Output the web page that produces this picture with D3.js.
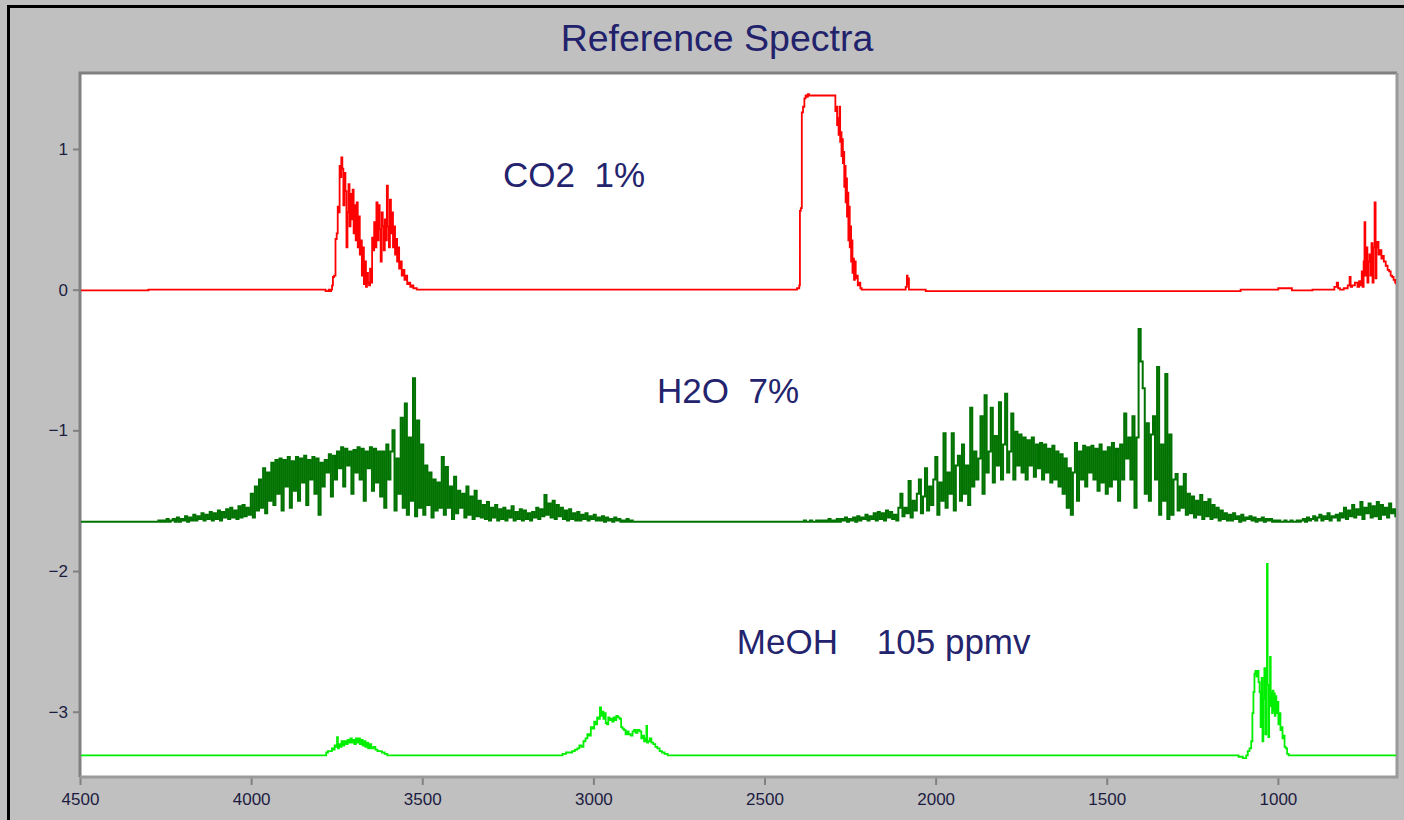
<!DOCTYPE html>
<html>
<head>
<meta charset="utf-8">
<script src="https://cdn.jsdelivr.net/npm/d3@7"></script>
<style>
  html, body { margin: 0; padding: 0; background: #c0c0c0; }
  svg { display: block; font-family: Arial, "Liberation Sans", sans-serif; }
</style>
</head>
<body>
<svg id="chart" width="1404" height="820"></svg>
<script>
// ---- axis ticks ----
const xTicks = [4500, 4000, 3500, 3000, 2500, 2000, 1500, 1000];
const yTicks = [1, 0, -1, -2, -3];

// ---- series names and vertical offsets of each stacked spectrum ----
const seriesNames = ["CO2  1%", "H2O  7%", "MeOH    105 ppmv"];
const co2Offset = 0;
const h2oOffset = -1.65;
const meohOffset = -3.31;

// ---- CO2 1% : [wavenumber, absorbance] ----
const co2Points = [
  [4500,-0.005],[4300,-0.005],[4300,0],[3790,0],[3775,-0.01],[3772,0],[3768,-0.01],[3765,0],
  [3762,0.03],[3760,0.09],[3755,0.1],[3752,0.36],[3748,0.4],[3746,0.59],[3743,0.55],[3740,0.88],
  [3738,0.8],[3735,0.94],[3732,0.86],[3729,0.6],[3726,0.83],[3723,0.7],[3720,0.3],[3717,0.55],
  [3714,0.75],[3711,0.45],[3708,0.68],[3705,0.5],[3702,0.71],[3699,0.4],[3696,0.6],[3693,0.35],
  [3690,0.62],[3687,0.3],[3684,0.52],[3681,0.25],[3678,0.35],[3675,0.1],[3672,0.3],[3669,0.04],
  [3666,0.2],[3663,0.02],[3660,0.12],[3657,0.05],[3654,0.03],[3651,0.15],[3648,0.05],[3645,0.37],
  [3642,0.28],[3639,0.48],[3636,0.3],[3632,0.62],[3629,0.35],[3626,0.6],[3623,0.43],[3620,0.2],
  [3617,0.55],[3614,0.45],[3611,0.28],[3608,0.5],[3605,0.35],[3602,0.74],[3599,0.45],[3596,0.3],
  [3593,0.64],[3590,0.4],[3587,0.55],[3584,0.3],[3581,0.45],[3578,0.25],[3575,0.36],[3572,0.2],
  [3569,0.3],[3566,0.15],[3562,0.2],[3558,0.1],[3554,0.14],[3550,0.07],[3546,0.1],[3542,0.04],
  [3537,0.05],[3533,0.02],[3528,0.03],[3524,0.01],[3518,0.01],[3514,0],
  [2410,0],[2400,0.01],[2397,0.03],[2396,0.56],[2392,0.58],[2390,1.26],[2385,1.3],[2382,1.36],
  [2378,1.38],[2375,1.37],[2372,1.39],[2368,1.38],[2294,1.38],[2292,1.27],[2289,1.3],[2287,1.17],
  [2285,1.22],[2282,1.1],[2280,1.3],[2278,1.05],[2276,1.12],[2274,0.95],[2272,1.07],[2270,0.9],
  [2268,0.98],[2266,0.73],[2264,0.88],[2262,0.62],[2260,0.79],[2258,0.52],[2256,0.69],[2254,0.35],
  [2252,0.59],[2250,0.3],[2248,0.45],[2246,0.2],[2244,0.35],[2242,0.12],[2240,0.22],[2237,0.07],
  [2235,0.2],[2232,0.08],[2229,0.1],[2226,0.03],[2222,0.05],[2218,0.01],[2214,0],
  [2090,0],[2085,0.02],[2083,0.1],[2081,0.04],[2079,0.08],[2077,0],[2030,0],[2028,-0.01],
  [1110,-0.01],[1108,0],[1000,0],[998,0.01],[960,0.01],[958,-0.005],[840,0],
  [830,0.02],[826,0.05],[822,0.01],[815,0],[800,0.01],[792,0.03],[789,0.09],[786,0.02],
  [780,0.03],[770,0.05],[765,0.02],[760,0.06],[756,0.03],[754,0.13],[751,0.02],[748,0.2],
  [746,0.48],[743,0.1],[740,0.3],[737,0.05],[734,0.2],[731,0.25],[728,0.1],[725,0.33],
  [722,0.05],[719,0.3],[716,0.62],[713,0.08],[711,0.3],[708,0.34],[704,0.25],[699,0.28],
  [696,0.22],[693,0.24],[688,0.2],[682,0.17],[677,0.14],[673,0.13],[668,0.1],[664,0.09],
  [660,0.07],[655,0.05],[652,0.04]
];

// ---- H2O 7% : evenly sampled absorbance (first x, spacing in cm-1) ----
const h2oBandAFirstX = 4280;
const h2oBandBFirstX = 2400;
const h2oDeltaX = -6;
const h2oBandA = [
  0,0,.01,0,.01,0,.02,0,.01,.02,
  0,.03,0,.02,.01,.04,0,.03,.01,.05,
  .01,.04,.02,.06,.01,.05,.02,.07,.01,.06,
  .02,.08,.01,.07,.03,.09,.02,.1,.03,.08,
  .02,.11,.03,.12,.04,.1,.05,.2,.03,.25,
  .08,.3,.1,.38,.06,.35,.15,.42,.12,.44,
  .2,.45,.08,.44,.25,.46,.1,.43,.22,.46,
  .15,.45,.28,.47,.12,.44,.3,.46,.2,.45,
  .05,.42,.25,.44,.35,.48,.18,.47,.3,.5,
  .38,.53,.25,.52,.4,.5,.2,.51,.35,.53,
  .3,.52,.15,.5,.38,.53,.22,.52,.28,.5,
  .18,.5,.1,.55,.3,.5,.65,.08,.45,.2,
  .74,.1,.84,.05,.6,.15,1.02,.04,.72,.1,
  .55,.05,.4,.12,.35,.03,.3,.08,.28,.1,
  .46,.05,.39,.1,.25,.02,.32,.06,.22,.1,
  .2,.03,.25,.05,.18,.02,.22,.04,.15,.03,
  .12,.02,.14,.01,.1,.03,.12,.01,.09,.02,
  .1,.01,.08,.03,.11,.01,.07,.02,.09,.01,
  .08,.02,.06,.01,.07,.03,.1,.02,.09,.04,
  .19,.05,.13,.03,.15,.02,.12,.04,.1,.02,
  .08,.01,.09,.02,.06,.01,.07,.01,.05,.02,
  .06,.01,.04,.02,.05,.01,.03,.01,.04,0,
  .03,.01,.02,0,.03,.01,.02,0,.01,0,
  .02,0,.01,0,0,0,0
];
const h2oBandB = [
  0,0,0,.01,0,0,.01,0,0,.01,
  0,.01,0,.01,0,.02,0,.01,0,.02,
  0,.02,.01,.03,0,.02,.01,.03,0,.04,
  .01,.03,.02,.05,.01,.04,.02,.06,.01,.07,
  .02,.06,.01,.08,.03,.07,.02,.05,.01,.1,
  .2,.04,.1,.06,.29,.03,.15,.08,.2,.3,
  .06,.18,.38,.08,.25,.12,.3,.46,.05,.28,
  .15,.63,.1,.35,.2,.63,.08,.4,.47,.15,
  .55,.2,.4,.12,.81,.25,.5,.3,.45,.75,
  .2,.9,.35,.5,.81,.28,.61,.4,.85,.3,
  .55,.91,.35,.5,.77,.3,.64,.4,.62,.35,
  .6,.3,.58,.4,.6,.32,.55,.38,.56,.3,
  .55,.35,.52,.28,.54,.3,.5,.25,.48,.2,
  .45,.1,.38,.05,.35,.56,.15,.5,.3,.54,
  .25,.53,.35,.54,.3,.52,.22,.55,.28,.5,
  .2,.53,.25,.56,.3,.52,.15,.55,.3,.77,
  .45,.6,.3,.75,.1,.6,1.37,1.14,.95,.2,
  .7,.15,.62,.75,.3,1.1,.05,.55,.15,1.05,
  .02,.62,.05,.3,.34,.08,.25,.1,.34,.05,
  .2,.06,.18,.03,.15,.05,.19,.02,.14,.04,
  .16,.02,.12,.03,.1,.01,.08,.02,.06,.01,
  .05,.01,.06,.02,.04,0,.05,.01,.03,.02,
  .04,.01,.03,0,.02,.01,.03,0,.02,.01,
  .02,0,.01,0,.01,0,0,.01,0,0,
  .01,0,0,.01,0,.01,.02,0,.03,.01,
  .02,.04,.01,.03,.05,.01,.04,.02,.06,.01,
  .04,.03,.05,.01,.06,.03,.1,.02,.08,.04,
  .12,.03,.09,.05,.14,.02,.1,.06,.13,.03,
  .11,.04,.14,.02,.12,.05,.1,.03,.13,.06,
  .09,.04
];

// ---- MeOH 105 ppmv : [wavenumber, absorbance] ----
const meohPoints = [
  [4500,0],[3790,0],[3782,0],[3779,0.02],[3772,0.03],[3766,0.03],[3762,0.05],[3758,0.04],
  [3754,0.07],[3750,0.06],[3748,0.13],[3745,0.05],[3742,0.08],[3738,0.06],[3734,0.1],[3730,0.07],
  [3726,0.1],[3720,0.08],[3716,0.11],[3712,0.09],[3708,0.12],[3704,0.09],[3700,0.11],[3696,0.08],
  [3692,0.12],[3688,0.09],[3684,0.12],[3680,0.08],[3676,0.11],[3672,0.07],[3668,0.1],[3664,0.06],
  [3660,0.09],[3656,0.05],[3652,0.08],[3646,0.05],[3640,0.06],[3634,0.04],[3628,0.03],[3622,0.03],
  [3614,0.02],[3606,0.01],[3598,0],
  [3095,0],[3085,0.01],[3075,0.02],[3066,0.02],[3058,0.03],[3050,0.04],[3044,0.05],[3038,0.07],
  [3032,0.06],[3026,0.1],[3020,0.12],[3015,0.15],[3010,0.14],[3005,0.2],[3000,0.19],[2995,0.24],
  [2991,0.22],[2987,0.27],[2983,0.26],[2979,0.34],[2976,0.28],[2972,0.31],[2969,0.26],[2966,0.3],
  [2962,0.23],[2958,0.22],[2955,0.27],[2951,0.25],[2947,0.26],[2943,0.24],[2939,0.27],[2935,0.25],
  [2931,0.28],[2926,0.27],[2921,0.26],[2917,0.2],[2913,0.19],[2908,0.18],[2904,0.15],[2900,0.17],
  [2894,0.15],[2888,0.14],[2883,0.17],[2879,0.18],[2874,0.16],[2868,0.18],[2862,0.17],[2858,0.12],
  [2854,0.14],[2850,0.1],[2846,0.12],[2844,0.21],[2842,0.09],[2838,0.1],[2833,0.12],[2828,0.09],
  [2822,0.08],[2816,0.06],[2810,0.05],[2803,0.03],[2796,0.02],[2788,0.01],[2778,0],
  [1120,0],[1110,-0.01],[1095,-0.02],[1090,0],[1086,0.03],[1080,0.05],[1076,0.1],[1073,0.3],
  [1070,0.45],[1067,0.58],[1064,0.6],[1061,0.56],[1058,0.6],[1055,0.52],[1052,0.45],[1049,0.2],
  [1046,0.55],[1044,0.1],[1041,0.4],[1038,0.62],[1035,0.15],[1033,0.55],[1031,1.36],[1029,0.5],
  [1027,0.13],[1024,0.4],[1022,0.7],[1020,0.35],[1018,0.45],[1016,0.3],[1014,0.46],[1012,0.32],
  [1010,0.44],[1008,0.28],[1006,0.42],[1003,0.3],[1000,0.38],[997,0.22],[994,0.3],[991,0.18],
  [988,0.2],[985,0.12],[982,0.14],[979,0.06],[975,0.05],[971,0.01],[966,0],[652,0]
];

// ---------------------------------------------------------------
const svg = d3.select("#chart");
const W = 1404, H = 820;
const plot = { left: 80, top: 73, right: 1397, bottom: 777 };

const x = d3.scaleLinear().domain([4500, 652]).range([plot.left, plot.right]);
const y = d3.scaleLinear().domain([1.54, -3.464]).range([plot.top, plot.bottom]);

// window frame
svg.append("rect")
  .attr("x", 8.5).attr("y", 6.5).attr("width", W).attr("height", H)
  .attr("fill", "#c0c0c0").attr("stroke", "#000").attr("stroke-width", 3);

// title
svg.append("text")
  .attr("x", 717).attr("y", 51)
  .attr("text-anchor", "middle")
  .attr("font-size", 37.5)
  .attr("fill", "#22226c")
  .text("Reference Spectra");

// plot area
svg.append("rect")
  .attr("x", plot.left).attr("y", plot.top)
  .attr("width", plot.right - plot.left).attr("height", plot.bottom - plot.top)
  .attr("fill", "#fff");

svg.append("defs").append("clipPath").attr("id", "plotClip")
  .append("rect")
  .attr("x", plot.left + 1).attr("y", plot.top + 1)
  .attr("width", plot.right - plot.left - 2).attr("height", plot.bottom - plot.top - 2);

// axes
const xAxis = d3.axisBottom(x).tickValues(xTicks).tickSize(8).tickSizeOuter(0).tickPadding(8)
  .tickFormat(d3.format("d"));
const gx = svg.append("g").attr("transform", `translate(0,${plot.bottom})`).call(xAxis);
gx.select(".domain").remove();
gx.selectAll(".tick line").attr("stroke", "#808080").attr("stroke-width", 2);
gx.selectAll(".tick text").attr("font-size", 17).attr("fill", "#1c1c40")
  .attr("font-family", "Arial, 'Liberation Sans', sans-serif");

const yAxis = d3.axisLeft(y).tickValues(yTicks).tickSize(7).tickSizeOuter(0).tickPadding(5)
  .tickFormat(d3.format("d"));
const gy = svg.append("g").attr("transform", `translate(${plot.left},0)`).call(yAxis);
gy.select(".domain").remove();
gy.selectAll(".tick line").attr("stroke", "#808080").attr("stroke-width", 2);
gy.selectAll(".tick text").attr("font-size", 17).attr("fill", "#1c1c40")
  .attr("font-family", "Arial, 'Liberation Sans', sans-serif");

// sunken border of the plot area
svg.append("path")
  .attr("d", `M${plot.left},${plot.bottom} V${plot.top} H${plot.right}`)
  .attr("fill", "none").attr("stroke", "#808080").attr("stroke-width", 3);
svg.append("path")
  .attr("d", `M${plot.right},${plot.top} V${plot.bottom} H${plot.left}`)
  .attr("fill", "none").attr("stroke", "#9a9a9a").attr("stroke-width", 3);

// spectra
const sampled = (firstX, values) => values.map((v, i) => [firstX + i * h2oDeltaX, v]);
const h2oPoints = [[4500, 0]]
  .concat(sampled(h2oBandAFirstX, h2oBandA))
  .concat(sampled(h2oBandBFirstX, h2oBandB));

const spectra = [
  { name: seriesNames[0], points: co2Points,  offset: co2Offset,  color: "#ff0000", width: 1.8 },
  { name: seriesNames[1], points: h2oPoints,  offset: h2oOffset,  color: "#007200", width: 2 },
  { name: seriesNames[2], points: meohPoints, offset: meohOffset, color: "#00ee00", width: 1.8 }
];

const gLines = svg.append("g").attr("clip-path", "url(#plotClip)");
spectra.forEach(s => {
  const line = d3.line()
    .x(d => x(d[0]))
    .y(d => y(d[1] + s.offset))
    .curve(d3.curveStep);
  gLines.append("path")
    .datum(s.points)
    .attr("d", line)
    .attr("fill", "none")
    .attr("stroke", s.color)
    .attr("stroke-width", s.width)
    .attr("stroke-linejoin", "miter");
});

// in-plot labels
const labelAnchors = [[3264, 0.73], [2814, -0.807], [2581, -2.59]];
spectra.forEach((s, i) => {
  svg.append("text")
    .attr("x", x(labelAnchors[i][0]))
    .attr("y", y(labelAnchors[i][1]))
    .attr("font-size", 35)
    .attr("fill", "#24246e")
    .style("white-space", "pre")
    .text(s.name);
});
</script>
</body>
</html>
